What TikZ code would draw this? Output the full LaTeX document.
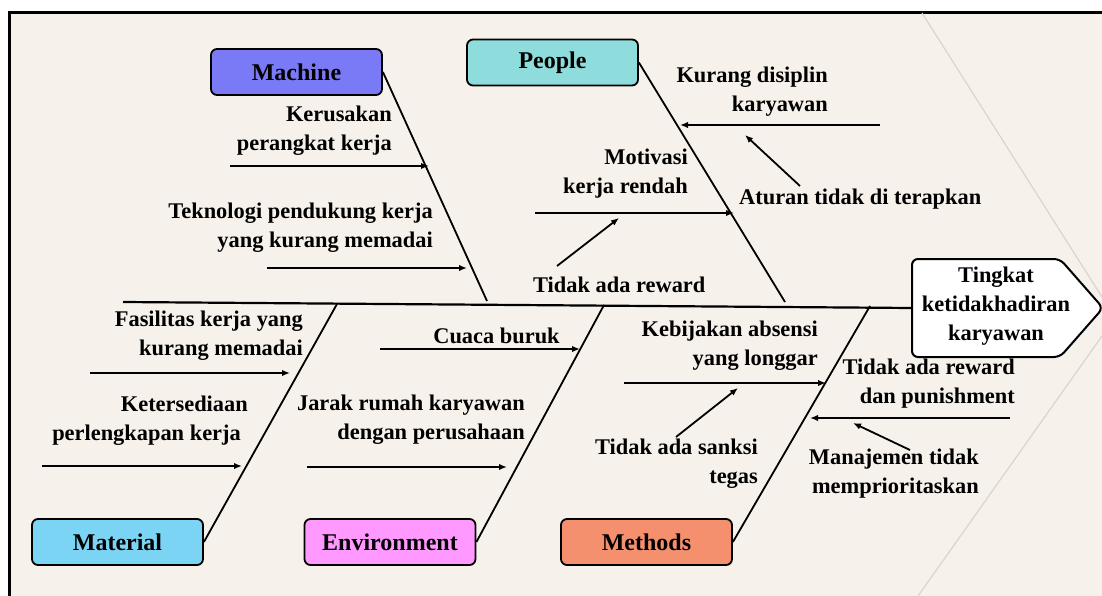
\documentclass[tikz,border=0pt]{standalone}
\usepackage{fontspec}
\setmainfont{Liberation Serif}
\usetikzlibrary{arrows.meta}
\definecolor{panel}{HTML}{F6F2EB}
\definecolor{faint}{HTML}{DAD5CC}
\definecolor{cMachine}{HTML}{7A7AF6}
\definecolor{cPeople}{HTML}{8EDCDB}
\definecolor{cMaterial}{HTML}{7CD4F5}
\definecolor{cEnv}{HTML}{FF99FF}
\definecolor{cMethods}{HTML}{F5906F}
\tikzset{
  cat/.style={draw, line width=1.8pt, rounded corners=6pt, minimum width=171pt,
    minimum height=46pt, inner sep=0pt, font=\fontsize{24}{28}\selectfont\bfseries},
  lbl/.style={font=\fontsize{22.4}{28.8}\selectfont\bfseries, inner sep=0pt, align=right},
  bone/.style={line width=1.8pt},
  arr/.style={line width=1.8pt, -{Latex[length=8pt,width=6.5pt]}},
}
\begin{document}
\begin{tikzpicture}[x=1pt,y=-1pt]
\useasboundingbox (0,0) rectangle (1102,596);
% panel
\fill[white] (0,0) rectangle (1102,596);
\fill[panel] (9,13) rectangle (1110,600);
\draw[line width=3pt] (9,600) -- (9,13) -- (1110,13);
\draw[faint, line width=1.2pt] (922,13) -- (1102,297);
\draw[faint, line width=1.2pt] (1102,336) -- (918,596);
% head
\filldraw[fill=white, line width=2pt, rounded corners=6pt]
  (912,259) -- (1060,259) -- (1103,308) -- (1060,357) -- (912,357) -- cycle;
\node[lbl, align=center] (head) at (996,306) {Tingkat\\ketidakhadiran\\karyawan};
% spine
\coordinate (spineL) at (123,302);
\coordinate (spineR) at (912,308);
\draw[line width=2.2pt] (spineL) -- (spineR);
% category boxes
\node[cat, fill=cMachine] (machine) at (296.5,72) {Machine};
\node[cat, fill=cPeople] (people) at (552.5,62.5) {People};
\node[cat, fill=cMaterial] (material) at (117.5,542) {Material};
\node[cat, fill=cEnv] (env) at (390,542) {Environment};
\node[cat, fill=cMethods] (methods) at (646.5,542) {Methods};
% bones
\coordinate (mB) at (487,301);
\coordinate (pB) at (785,302);
\coordinate (maB) at (337,304);
\coordinate (eB) at (604,305);
\coordinate (meB) at (870,306);
\draw[bone] (machine.east) -- (mB);
\draw[bone] (people.east) -- (pB);
\draw[bone] (material.east) -- (maB);
\draw[bone] (env.east) -- (eB);
\draw[bone] (methods.east) -- (meB);
% cause arrows
\foreach \n/\ax/\ay/\bx/\by in {
  a1/230/166/429/166, a2/267/268/467/268,
  a3/880/125/680/125, a4/535/213/734/213,
  a5/800/186/745/135, a6/557/266/619/218,
  a7/90/373/290/373, a8/42/466/242/466,
  a9/380/349/580/349, a10/307/467/507/467,
  a11/624/383/826/383, a12/676/437/738/388,
  a13/1010/418/810/418, a14/910/450/853/423}{
  \coordinate (\n s) at (\ax,\ay);
  \coordinate (\n e) at (\bx,\by);
  \draw[arr] (\n s) -- (\n e);
}
% texts
\node[lbl, anchor=east] (t1) at (392,130.5) {Kerusakan\\perangkat kerja};
\node[lbl, anchor=east] (t2) at (433,227.5) {Teknologi pendukung kerja\\yang kurang memadai};
\node[lbl, anchor=east] (t3) at (828,92) {Kurang disiplin\\karyawan};
\node[lbl, anchor=east] (t4) at (688,174) {Motivasi\\kerja rendah};
\node[lbl, anchor=west] (t5) at (739,199) {Aturan tidak di terapkan};
\node[lbl, anchor=west] (t6) at (533,285) {Tidak ada reward};
\node[lbl, anchor=east] (t7) at (303,336) {Fasilitas kerja yang\\kurang memadai};
\node[lbl, anchor=east] (t8) at (248,420.5) {Ketersediaan\\perlengkapan kerja\kern7pt};
\node[lbl] (t9) at (496.5,336) {Cuaca buruk};
\node[lbl, anchor=east] (t10) at (525,420) {Jarak rumah karyawan\\dengan perusahaan};
\node[lbl, anchor=east] (t11) at (818,345.5) {Kebijakan absensi\\yang longgar};
\node[lbl, anchor=east] (t12) at (758,464) {Tidak ada sanksi\\tegas};
\node[lbl, anchor=east] (t13) at (1015,384) {Tidak ada reward\\dan punishment};
\node[lbl, anchor=east] (t14) at (979,473.5) {Manajemen tidak\\memprioritaskan};
\end{tikzpicture}
\end{document}
